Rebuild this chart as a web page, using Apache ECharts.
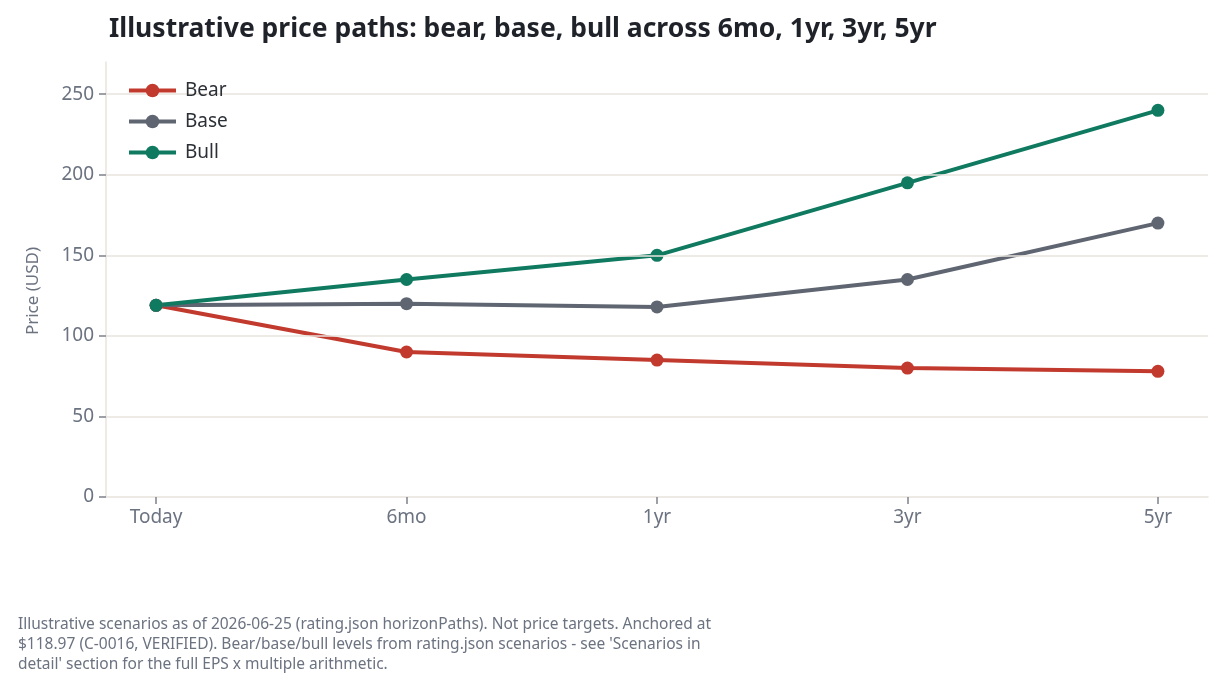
<!DOCTYPE html>
<html>
<head>
    <meta charset="utf-8">
    <title>Illustrative price paths</title>
    <script src="https://cdn.jsdelivr.net/npm/echarts@6/dist/echarts.min.js"></script>
    <style>
        html, body { margin: 0; padding: 0; background: #ffffff; }
        #main { width: 1222px; height: 689px; }
    </style>
</head>
<body>
<div id="main"></div>
<script>
    // horizons and scenario paths (USD)
    var horizons = ['Today', '6mo', '1yr', '3yr', '5yr'];
    var bear = [118.97, 90, 85, 80, 78];
    var base = [118.97, 120, 118, 135, 170];
    var bull = [118.97, 135, 150, 195, 240];
    var yTicks = [0, 50, 100, 150, 200, 250];

    var FONT = '"Noto Sans", "Open Sans", sans-serif';
    var GRID_COLOR = '#e8e4de';
    var LABEL_COLOR = '#6b7280';

    function pairs(arr) {
        var out = [];
        for (var i = 0; i < arr.length; i++) {
            out.push([i, arr[i]]);
        }
        return out;
    }

    function line(name, color, values) {
        return {
            name: name,
            type: 'line',
            data: pairs(values),
            symbol: 'circle',
            symbolSize: 13,
            lineStyle: { color: color, width: 4 },
            itemStyle: { color: color },
            emphasis: { disabled: true },
            z: 3
        };
    }

    var myChart = echarts.init(document.getElementById('main'));
    var option = {
        animation: false,
        title: [{
            text: 'Illustrative price paths: bear, base, bull across 6mo, 1yr, 3yr, 5yr',
            left: 104,
            top: 11,
            textStyle: { fontFamily: FONT, fontWeight: 'bold', fontSize: 26.5, color: '#1f2329' }
        }, {
            text: "Illustrative scenarios as of 2026-06-25 (rating.json horizonPaths). Not price targets. Anchored at\n" +
                  "$118.97 (C-0016, VERIFIED). Bear/base/bull levels from rating.json scenarios - see 'Scenarios in\n" +
                  "detail' section for the full EPS x multiple arithmetic.",
            left: 13,
            top: 610,
            textStyle: { fontFamily: FONT, fontWeight: 'normal', fontSize: 15.5, color: '#6b7280', lineHeight: 20 }
        }],
        legend: {
            orient: 'vertical',
            left: 122,
            top: 76,
            z: 10,
            itemGap: 12,
            itemWidth: 47,
            itemHeight: 17,
            lineStyle: { width: 4 },
            textStyle: { fontFamily: FONT, fontSize: 19, color: '#2b2f36', padding: [0, 0, 0, 4] },
            data: ['Bear', 'Base', 'Bull']
        },
        graphic: [{
            type: 'text',
            x: 33,
            y: 291,
            rotation: Math.PI / 2,
            style: {
                text: 'Price (USD)',
                fontFamily: FONT,
                fontSize: 17,
                fill: LABEL_COLOR,
                align: 'center',
                verticalAlign: 'middle'
            }
        }],
        grid: { left: 106, right: 14, top: 62, bottom: 192 },
        xAxis: {
            type: 'value',
            min: -0.2,
            max: 4.2,
            splitLine: { show: false },
            axisLine: { show: true, lineStyle: { color: GRID_COLOR, width: 1.5 } },
            axisTick: {
                show: true,
                customValues: [0, 1, 2, 3, 4],
                length: 7,
                lineStyle: { color: '#7d828b', width: 1.5 }
            },
            axisLabel: {
                customValues: [0, 1, 2, 3, 4],
                formatter: function (v) { return horizons[Math.round(v)]; },
                fontFamily: FONT,
                fontSize: 19,
                color: LABEL_COLOR,
                margin: 11
            }
        },
        yAxis: {
            type: 'value',
            min: 0,
            max: 270,
            axisLine: { show: true, onZero: false, lineStyle: { color: GRID_COLOR, width: 1.5 } },
            axisTick: {
                show: true,
                customValues: yTicks,
                length: 7,
                lineStyle: { color: '#7d828b', width: 1.5 }
            },
            axisLabel: {
                customValues: yTicks,
                fontFamily: FONT,
                fontSize: 19,
                color: LABEL_COLOR,
                margin: 12
            },
            splitLine: { show: false }
        },
        series: [
            line('Bear', '#c13a2d', bear),
            line('Base', '#5f6571', base),
            line('Bull', '#0f7a60', bull),
            {
                // horizontal gridlines at the y tick values
                type: 'line',
                data: [],
                silent: true,
                markLine: {
                    silent: true,
                    symbol: 'none',
                    label: { show: false },
                    lineStyle: { color: GRID_COLOR, width: 1.5, type: 'solid' },
                    data: yTicks.slice(1).map(function (v) { return { yAxis: v }; })
                },
                z: 1
            }
        ]
    };
    myChart.setOption(option);
</script>
</body>
</html>
